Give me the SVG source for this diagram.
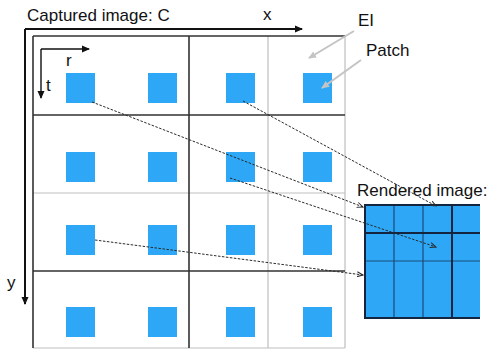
<svg xmlns="http://www.w3.org/2000/svg" width="490" height="352" viewBox="0 0 490 352">
  <style>
    text { font-family: "Liberation Sans", Arial, sans-serif; fill: #111; }
    .lbl { font-size: 17px; }
    .patch { fill: #2EA8F6; }
    .dark { stroke: #333; stroke-width: 1.6; fill: none; }
    .light { stroke: #bfbfbf; stroke-width: 1.2; fill: none; }
    .axis { stroke: #111; stroke-width: 2; fill: none; }
    .axis-thin { stroke: #111; stroke-width: 1.4; fill: none; }
    .callout { stroke: #c4c4c4; stroke-width: 2; fill: none; }
    .link { stroke: #2a2a2a; stroke-width: 1; stroke-dasharray: 2.5 1.5; fill: none; }
    .rgrid { stroke: #1B4A78; stroke-width: 1.2; fill: none; }
    .rbold { stroke: #14263F; stroke-width: 2; fill: none; }
  </style>
  <defs>
    <marker id="arr" markerWidth="8" markerHeight="8" refX="7" refY="4" orient="auto" markerUnits="userSpaceOnUse">
      <path d="M0,0.5 L8,4 L0,7.5 Z" fill="#111"/>
    </marker>
    <marker id="arrGray" markerWidth="8" markerHeight="8" refX="7" refY="4" orient="auto" markerUnits="userSpaceOnUse">
      <path d="M0,0.5 L8,4 L0,7.5 Z" fill="#c4c4c4"/>
    </marker>
    <marker id="arrLink" markerWidth="7" markerHeight="6" refX="6" refY="3" orient="auto" markerUnits="userSpaceOnUse">
      <path d="M0,0.5 L6,3 L0,5.5" fill="none" stroke="#2a2a2a" stroke-width="1"/>
    </marker>
  </defs>

  <!-- captured image: axes and title -->
  <g id="captured">
    <text class="lbl" x="27" y="21">Captured image: C</text>
    <path class="axis" d="M25,29 H302" marker-end="url(#arr)"/>
    <path class="axis" d="M25,29 V304" marker-end="url(#arr)"/>
    <text class="lbl" x="263" y="20">x</text>
    <text class="lbl" x="7" y="288">y</text>

    <!-- elemental image grid -->
    <path class="light" d="M33,193 H345 M268,36 V348 M345,36 V348 M33,348 H345"/>
    <path class="dark" d="M33,36 H345 M33,115 H345 M33,271 H345 M33,36 V348 M189,36 V348"/>

    <!-- local patch axes -->
    <path class="axis-thin" d="M41,49 H89" marker-end="url(#arr)"/>
    <path class="axis-thin" d="M41,49 V98" marker-end="url(#arr)"/>
    <text class="lbl" x="66" y="66">r</text>
    <text class="lbl" x="46" y="91">t</text>
  </g>

  <!-- patches -->
  <g id="patches">
    <rect class="patch" x="66" y="73" width="29" height="30"/>
    <rect class="patch" x="148" y="73" width="29" height="30"/>
    <rect class="patch" x="226" y="73" width="29" height="30"/>
    <rect class="patch" x="303" y="73" width="29" height="30"/>
    <rect class="patch" x="66" y="152" width="29" height="30"/>
    <rect class="patch" x="148" y="152" width="29" height="30"/>
    <rect class="patch" x="226" y="152" width="29" height="30"/>
    <rect class="patch" x="303" y="152" width="29" height="30"/>
    <rect class="patch" x="66" y="225" width="29" height="30"/>
    <rect class="patch" x="148" y="225" width="29" height="30"/>
    <rect class="patch" x="226" y="225" width="29" height="30"/>
    <rect class="patch" x="303" y="225" width="29" height="30"/>
    <rect class="patch" x="66" y="307" width="29" height="30"/>
    <rect class="patch" x="148" y="307" width="29" height="30"/>
    <rect class="patch" x="226" y="307" width="29" height="30"/>
    <rect class="patch" x="303" y="307" width="29" height="30"/>
  </g>

  <!-- callout labels -->
  <g id="label-ei">
    <text class="lbl" x="358" y="26">EI</text>
    <path class="callout" d="M354,31 L309,58" marker-end="url(#arrGray)"/>
  </g>
  <g id="label-patch">
    <text class="lbl" x="366" y="56">Patch</text>
    <path class="callout" d="M361,60 L322,88" marker-end="url(#arrGray)"/>
  </g>

  <!-- rendered image -->
  <g id="rendered">
    <text class="lbl" x="357" y="196">Rendered image:</text>
    <rect x="365" y="205" width="115" height="113" fill="#2EA8F6"/>
    <path class="rgrid" d="M394,205 V318 M423,205 V318 M365,261 H480"/>
    <path class="rbold" d="M480,205 H365 V318 H480 M452,205 V318 M365,233 H480"/>
  </g>

  <!-- patch-to-pixel connectors -->
  <g id="connectors">
    <path class="link" d="M92,102 L363,207" marker-end="url(#arrLink)"/>
    <path class="link" d="M243,101 L436,206" marker-end="url(#arrLink)"/>
    <path class="link" d="M230,178 L436,247" marker-end="url(#arrLink)"/>
    <path class="link" d="M95,240 L363,275" marker-end="url(#arrLink)"/>
  </g>
</svg>
